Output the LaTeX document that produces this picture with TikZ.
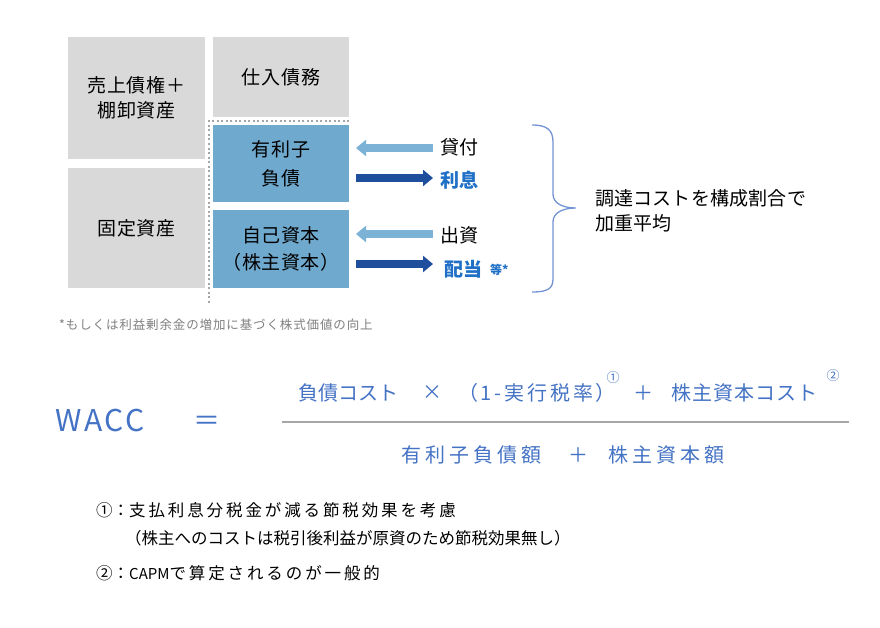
\documentclass[tikz,border=0pt]{standalone}
\usepackage{fontspec}
\setmainfont{Noto Sans CJK JP}
\usetikzlibrary{arrows.meta}
\definecolor{boxgray}{HTML}{D9D9D9}
\definecolor{boxblue}{HTML}{70A9CE}
\definecolor{arrlight}{HTML}{7BB2D5}
\definecolor{arrdark}{HTML}{1F4E9C}
\definecolor{fblue}{HTML}{4472C4}
\definecolor{tblue}{HTML}{1F70C6}
\definecolor{bracec}{HTML}{7393D4}
\definecolor{dotgray}{HTML}{A6A6A6}
\definecolor{notegray}{HTML}{7F7F7F}
\definecolor{rulegray}{HTML}{A6A6A6}
\newcommand\fs[2]{\fontsize{#1bp}{#2bp}\selectfont}
\newcommand\ls[1]{\addfontfeature{LetterSpace=#1}}
\begin{document}
\begin{tikzpicture}[x=1bp,y=-1bp,
  acct/.style={draw=none,inner sep=0pt,align=center,font=\fs{19}{25}\ls{5}},
  grayacct/.style={acct,fill=boxgray},
  blueacct/.style={acct,fill=boxblue},
  lbl/.style={inner sep=0pt,anchor=west,font=\fs{19}{25}},
  bluelbl/.style={lbl,text=tblue,font=\fs{19}{25}\bfseries},
  flow/.style={line width=8bp,-{Triangle[length=10bp,width=16bp]}},
  fml/.style={inner sep=0pt,text=fblue,font=\fs{20}{24}},
  note/.style={inner sep=0pt,anchor=west,font=\fs{16.5}{20}}]
\useasboundingbox (0,0) rectangle (880,628);
% balance sheet boxes
\node[grayacct,minimum width=137bp,minimum height=122bp] (ar) at (136.5,98) {売上債権＋\\棚卸資産};
\node[grayacct,minimum width=137bp,minimum height=120bp] (fa) at (136.5,228) {固定資産};
\node[grayacct,minimum width=136bp,minimum height=80bp] (ap) at (281,77) {仕入債務};
\node[blueacct,minimum width=136bp,minimum height=77bp,font=\fs{19}{29}\ls{5}] (debt) at (281,163.5) {有利子\\負債};
\node[blueacct,minimum width=136bp,minimum height=78bp,font=\fs{19}{27}\ls{3}] (eqty) at (281,249) {自己資本\\（株主資本）};
% dotted frame
\coordinate (d1) at (349,121);
\coordinate (d2) at (209,121);
\coordinate (d3) at (209,305);
\draw[dotgray,line width=2bp,dash pattern=on 2bp off 2.5bp] (d1) -- (d2) -- (d3);
% labels
\node[lbl] (lend) at (440,147) {貸付};
\node[bluelbl] (int) at (440,180) {利息};
\node[lbl] (inv) at (440,235) {出資};
\node[bluelbl] (div) at (444,269) {配当};
\node[inner sep=0pt,anchor=west,text=tblue,font=\fs{12}{14}\bfseries] (divx) at (490,270) {等*};
% arrows
\coordinate (a1s) at (433,148); \coordinate (a1e) at (356,148);
\coordinate (a2s) at (356,178); \coordinate (a2e) at (433,178);
\coordinate (a3s) at (433,234); \coordinate (a3e) at (356,234);
\coordinate (a4s) at (356,264); \coordinate (a4e) at (433,264);
\draw[flow,arrlight] (a1s) -- (a1e);
\draw[flow,arrdark] (a2s) -- (a2e);
\draw[flow,arrlight] (a3s) -- (a3e);
\draw[flow,arrdark] (a4s) -- (a4e);
% brace
\coordinate (bt) at (532,125);
\coordinate (bm) at (576,208);
\coordinate (bb) at (532,292);
\draw[bracec,line width=1.3bp] (bt) .. controls (547,125) and (553,130) .. (553,142) -- (553,194)
   .. controls (553,204) and (564,208) .. (bm)
   .. controls (564,208) and (553,212) .. (553,222) -- (553,279)
   .. controls (553,289) and (547,292) .. (bb);
\node[inner sep=0pt,anchor=west,align=left,font=\fs{19}{25}\ls{1}] (wavg) at (595,210.5) {調達コストを構成割合で\\加重平均};
% footnote
\node[inner sep=0pt,anchor=west,text=notegray,font=\fs{12.5}{15}\ls{7}] (foot) at (59,325) {*もしくは利益剰余金の増加に基づく株式価値の向上};
% formula
\node[inner sep=0pt,text=fblue,font=\fs{30}{34}\ls{9}] (wacc) at (100,421) {WACC};
\node[inner sep=0pt,text=fblue,font=\fs{27}{30}] (eqs) at (207,423) {＝};
\coordinate (r1) at (282,422);
\coordinate (r2) at (849,422);
\draw[rulegray,line width=1.3bp] (r1) -- (r2);
\node[fml,anchor=west] (dcost) at (298,393) {負債コスト};
\node[fml] (times) at (432,393) {×};
\node[fml,anchor=west,font=\fs{20}{24}\ls{14}] (tax) at (458,393) {（1-実行税率）};
\node[fml,font=\fs{13}{15}] (s1) at (613,378) {①};
\node[fml] (plus1) at (643,393) {＋};
\node[fml,anchor=west,font=\fs{20}{24}\ls{5}] (ecost) at (671,393) {株主資本コスト};
\node[fml,font=\fs{13}{15}] (s2) at (833,376) {②};
\node[fml,anchor=west,font=\fs{20}{24}\ls{20}] (dsum) at (401,455) {有利子負債額};
\node[fml] (plus2) at (578,455) {＋};
\node[fml,anchor=west,font=\fs{20}{24}\ls{20}] (esum) at (608,455) {株主資本額};
% notes
\node[note] (n1) at (96,510) {①：{\ls{17.5}支払利息分税金が減る節税効果を考慮}};
\node[note] (n2) at (125,538) {（株主へのコストは税引後利益が原資のため節税効果無し）};
\node[note] (n3) at (96,573) {②：{\fs{15}{18}CAPM}{\ls{17.5}で算定されるのが一般的}};
\end{tikzpicture}
\end{document}
